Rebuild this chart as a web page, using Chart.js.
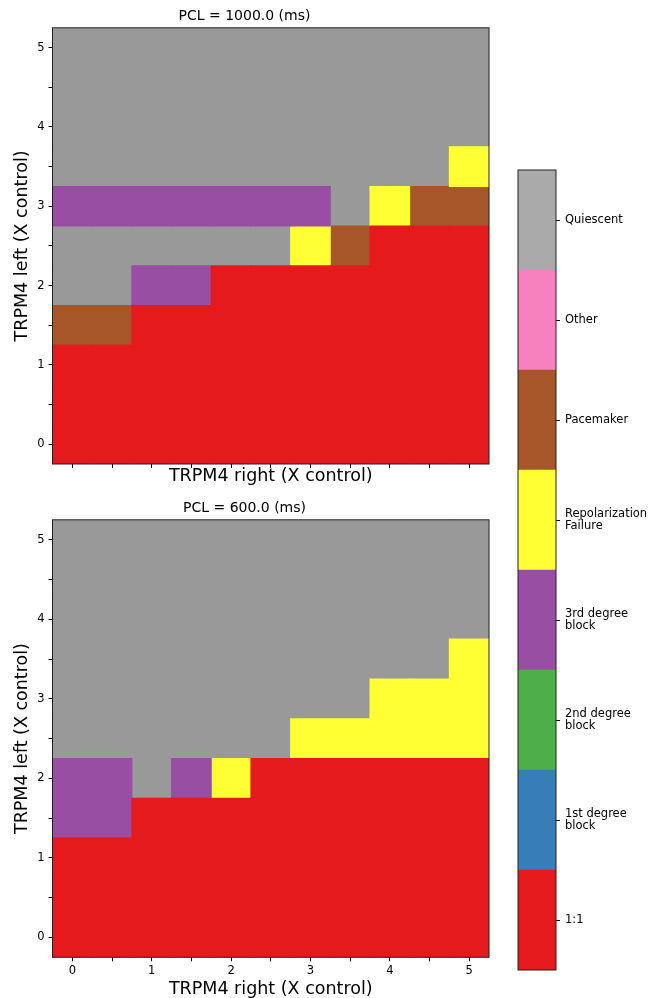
<!DOCTYPE html>
<html>
<head>
<meta charset="utf-8">
<script src="https://cdn.jsdelivr.net/npm/chart.js@4.4.0/dist/chart.umd.min.js"></script>
<style>
  body { margin: 0; background: #fff; }
  canvas { position: absolute; }
</style>
</head>
<body>
<canvas id="pcl1000" width="500" height="490" style="left:0;top:0"></canvas>
<canvas id="pcl600" width="500" height="506" style="left:0;top:492px"></canvas>
<canvas id="cbar" width="162" height="998" style="left:500px;top:0"></canvas>
<script>
// grid values (X control) for both TRPM4 sides
const rightVals = [0, 0.5, 1, 1.5, 2, 2.5, 3, 3.5, 4, 4.5, 5];
const leftVals = [0, 0.5, 1, 1.5, 2, 2.5, 3, 3.5, 4, 4.5, 5];

const outcomes = [['1:1'], ['1st degree', 'block'], ['2nd degree', 'block'], ['3rd degree', 'block'],
  ['Repolarization', 'Failure'], ['Pacemaker'], ['Other'], ['Quiescent']];
const colors = ['#e41a1c', '#377eb8', '#4daf4a', '#984ea3', '#ffff33', '#a65628', '#f781bf', '#999999'];
const cbarColors = ['#e41a1c', '#377eb8', '#4daf4a', '#984ea3', '#ffff33', '#a65628', '#f781bf', '#aaaaaa'];

// outcome index per cell; one row per TRPM4 left value, bottom row (left = 0) first
const pcl1000 = [
  [0, 0, 0, 0, 0, 0, 0, 0, 0, 0, 0],
  [0, 0, 0, 0, 0, 0, 0, 0, 0, 0, 0],
  [0, 0, 0, 0, 0, 0, 0, 0, 0, 0, 0],
  [5, 5, 0, 0, 0, 0, 0, 0, 0, 0, 0],
  [7, 7, 3, 3, 0, 0, 0, 0, 0, 0, 0],
  [7, 7, 7, 7, 7, 7, 4, 5, 0, 0, 0],
  [3, 3, 3, 3, 3, 3, 3, 7, 4, 5, 5],
  [7, 7, 7, 7, 7, 7, 7, 7, 7, 7, 4],
  [7, 7, 7, 7, 7, 7, 7, 7, 7, 7, 7],
  [7, 7, 7, 7, 7, 7, 7, 7, 7, 7, 7],
  [7, 7, 7, 7, 7, 7, 7, 7, 7, 7, 7]
];
const pcl600 = [
  [0, 0, 0, 0, 0, 0, 0, 0, 0, 0, 0],
  [0, 0, 0, 0, 0, 0, 0, 0, 0, 0, 0],
  [0, 0, 0, 0, 0, 0, 0, 0, 0, 0, 0],
  [3, 3, 0, 0, 0, 0, 0, 0, 0, 0, 0],
  [3, 3, 7, 3, 4, 0, 0, 0, 0, 0, 0],
  [7, 7, 7, 7, 7, 7, 4, 4, 4, 4, 4],
  [7, 7, 7, 7, 7, 7, 7, 7, 4, 4, 4],
  [7, 7, 7, 7, 7, 7, 7, 7, 7, 7, 4],
  [7, 7, 7, 7, 7, 7, 7, 7, 7, 7, 7],
  [7, 7, 7, 7, 7, 7, 7, 7, 7, 7, 7],
  [7, 7, 7, 7, 7, 7, 7, 7, 7, 7, 7]
];

Chart.defaults.font.family = "'DejaVu Sans', sans-serif";
Chart.defaults.color = '#000';

// black box around the plot area
const frame = {
  id: 'frame',
  afterDatasetsDraw(chart) {
    const { ctx, chartArea: a } = chart;
    ctx.save();
    ctx.strokeStyle = '#222';
    ctx.lineWidth = 1;
    ctx.strokeRect(a.left, a.top, a.right - a.left, a.bottom - a.top);
    ctx.restore();
  }
};

const half = (leftVals[1] - leftVals[0]) / 2;

// one floating-bar dataset per outcome, each bar is one grid cell
function cellDatasets(grid) {
  return outcomes.map((name, k) => {
    const cells = [];
    grid.forEach((row, i) => row.forEach((code, j) => {
      if (code === k) cells.push({ x: rightVals[j], y: [leftVals[i] - half, leftVals[i] + half] });
    }));
    return {
      label: name.join(' '), data: cells, backgroundColor: colors[k],
      grouped: false, barPercentage: 1, categoryPercentage: 1, borderWidth: 0, inflateAmount: 0.5
    };
  });
}

const tickGrid = { drawOnChartArea: false, offset: false, tickLength: 4, tickColor: '#000', tickWidth: 1 };

function heatmap(id, title, grid, showX, xHeight, xTitlePad) {
  const lo = leftVals[0] - half, hi = leftVals[leftVals.length - 1] + half;
  return new Chart(document.getElementById(id), {
    type: 'bar',
    data: { datasets: cellDatasets(grid) },
    options: {
      responsive: false,
      animation: false,
      layout: { padding: { left: 0, right: 11, top: 0, bottom: 0 } },
      plugins: {
        legend: { display: false },
        tooltip: { enabled: false },
        title: { display: true, text: title, color: '#000', font: { size: 14, weight: 'normal' }, padding: { top: 8, bottom: 3 } }
      },
      scales: {
        x: {
          type: 'linear', min: lo, max: hi, offset: false,
          afterBuildTicks: s => { s.ticks = rightVals.map(v => ({ value: v })); },
          grid: tickGrid, border: { display: false },
          ticks: {
            autoSkip: false, maxRotation: 0, padding: 3,
            font: { size: 11.5 }, color: '#000',
            callback: v => (showX && Number.isInteger(v)) ? String(v) : ''
          },
          title: { display: true, text: 'TRPM4 right (X control)', color: '#000', font: { size: 17.5, lineHeight: 1 }, padding: { top: 0, bottom: xTitlePad } },
          afterFit: s => { s.height = xHeight; }
        },
        y: {
          type: 'linear', min: lo, max: hi,
          afterBuildTicks: s => { s.ticks = leftVals.map(v => ({ value: v })); },
          grid: tickGrid, border: { display: false },
          ticks: {
            autoSkip: false, padding: 4,
            font: { size: 11.5 }, color: '#000',
            callback: v => Number.isInteger(v) ? String(v) : ''
          },
          title: { display: true, text: 'TRPM4 left (X control)', color: '#000', font: { size: 17.5, lineHeight: 1 }, padding: { top: 14, bottom: 0 } },
          afterFit: s => { s.width = 52.5; }
        }
      }
    },
    plugins: [frame]
  });
}

heatmap('pcl1000', 'PCL = 1000.0 (ms)', pcl1000, false, 26, 5);
heatmap('pcl600', 'PCL = 600.0 (ms)', pcl600, true, 40.7, 0);

// colorbar: one segment per outcome
new Chart(document.getElementById('cbar'), {
  type: 'bar',
  data: {
    labels: [''],
    datasets: outcomes.map((name, k) => ({
      label: name.join(' '), data: [[k, k + 1]], backgroundColor: cbarColors[k],
      grouped: false, barPercentage: 1, categoryPercentage: 1, borderWidth: 0
    }))
  },
  options: {
    responsive: false,
    animation: false,
    layout: { padding: { left: 18, top: 170, bottom: 28, right: 0 } },
    plugins: { legend: { display: false }, tooltip: { enabled: false } },
    scales: {
      x: { display: false },
      y: {
        position: 'right', min: 0, max: outcomes.length,
        afterBuildTicks: s => { s.ticks = outcomes.map((_, k) => ({ value: k + 0.5 })); },
        grid: tickGrid, border: { display: false },
        ticks: {
          autoSkip: false, padding: 5, color: '#000', font: { size: 11.5, lineHeight: 1.1 },
          callback: v => outcomes[Math.floor(v)]
        },
        afterFit: s => { s.width = 106; }
      }
    }
  },
  plugins: [frame]
});
</script>
</body>
</html>
